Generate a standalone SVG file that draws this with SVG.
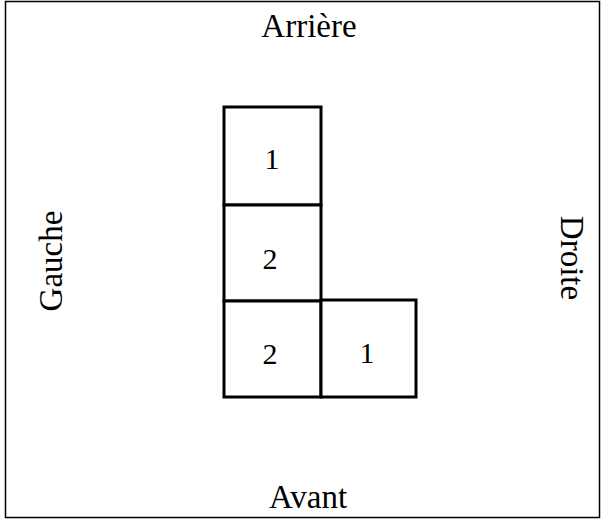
<svg xmlns="http://www.w3.org/2000/svg" width="602" height="520" viewBox="0 0 602 520">
<style>
.cell{fill:#fff;stroke:#000;stroke-width:3}
.lbl{font-family:"Liberation Serif","Times New Roman",serif;font-size:33px;fill:#000;text-anchor:middle}
.num{font-family:"Liberation Serif","Times New Roman",serif;font-size:30px;fill:#000;text-anchor:middle}
</style>
<rect x="0" y="0" width="602" height="520" fill="#fff"/>
<rect x="5.5" y="1.5" width="594" height="516" fill="none" stroke="#000" stroke-width="1.5"/>
<g id="labels">
<text class="lbl" x="309" y="37">Arrière</text>
<text class="lbl" x="308" y="508">Avant</text>
<text class="lbl" transform="translate(62,261) rotate(-90)">Gauche</text>
<text class="lbl" transform="translate(561,258) rotate(90)">Droite</text>
</g>
<g id="cell-1">
<rect class="cell" x="224" y="107" width="97" height="98"/>
<text class="num" x="272" y="169">1</text>
</g>
<g id="cell-2">
<rect class="cell" x="224" y="205" width="97" height="96"/>
<text class="num" x="270" y="269">2</text>
</g>
<g id="cell-3">
<rect class="cell" x="224" y="301" width="97" height="96"/>
<text class="num" x="270" y="364">2</text>
</g>
<g id="cell-4">
<rect class="cell" x="321" y="300" width="95" height="97"/>
<text class="num" x="367" y="363">1</text>
</g>
</svg>
